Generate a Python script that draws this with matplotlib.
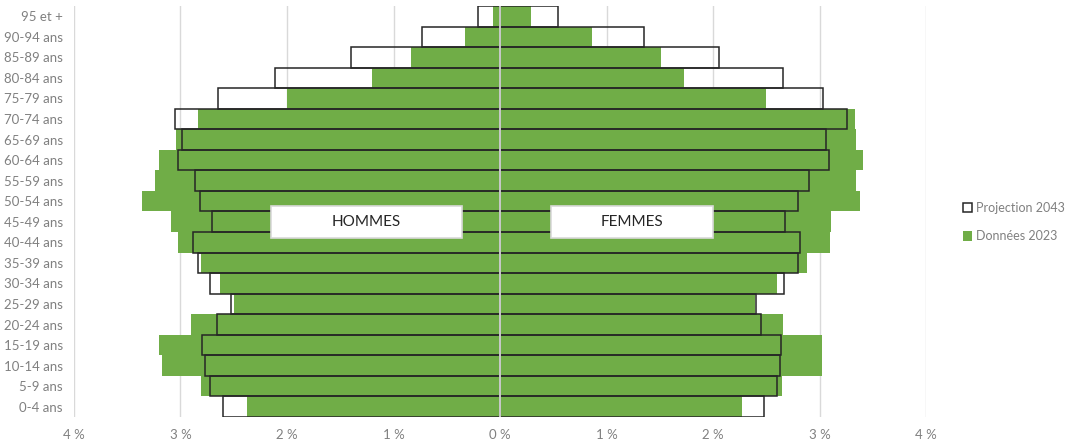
import matplotlib.pyplot as plt
from matplotlib.patches import Patch, Rectangle

plt.rcParams['font.family'] = ['Lato', 'DejaVu Sans']

ages = ['0-4 ans', '5-9 ans', '10-14 ans', '15-19 ans', '20-24 ans', '25-29 ans',
        '30-34 ans', '35-39 ans', '40-44 ans', '45-49 ans', '50-54 ans', '55-59 ans',
        '60-64 ans', '65-69 ans', '70-74 ans', '75-79 ans', '80-84 ans', '85-89 ans',
        '90-94 ans', '95 et +']

# part de la population (%), de 0-4 ans à 95 et +
hommes_2023 = [2.38, 2.81, 3.17, 3.20, 2.90, 2.50, 2.63, 2.81, 3.02, 3.09,
               3.36, 3.24, 3.20, 3.04, 2.84, 2.00, 1.20, 0.84, 0.33, 0.07]
femmes_2023 = [2.27, 2.65, 3.02, 3.02, 2.66, 2.39, 2.60, 2.88, 3.10, 3.11,
               3.38, 3.34, 3.41, 3.34, 3.33, 2.50, 1.73, 1.51, 0.86, 0.29]
hommes_2043 = [2.60, 2.72, 2.77, 2.80, 2.66, 2.53, 2.72, 2.84, 2.88, 2.70,
               2.82, 2.86, 3.02, 2.99, 3.05, 2.65, 2.11, 1.40, 0.73, 0.21]
femmes_2043 = [2.48, 2.60, 2.63, 2.64, 2.45, 2.40, 2.67, 2.80, 2.82, 2.68,
               2.80, 2.90, 3.09, 3.06, 3.26, 3.03, 2.66, 2.06, 1.35, 0.54]

ticks = [-4, -3, -2, -1, 0, 1, 2, 3, 4]
tick_labels = ['4 %', '3 %', '2 %', '1 %', '0 %', '1 %', '2 %', '3 %', '4 %']

vert = '#70AD47'
gris = '#808080'
y = range(len(ages))

fig = plt.figure(figsize=(10.66, 4.4), dpi=100)
ax = fig.add_axes([0.0694, 0.0523, 0.7993, 0.9341])

# données 2023 : barres pleines
ax.barh(y, [-v for v in hommes_2023], height=1.0, color=vert, zorder=2)
ax.barh(y, femmes_2023, height=1.0, color=vert, zorder=2)
# projection 2043 : contour seul
ax.barh(y, [-v for v in hommes_2043], height=1.0, facecolor='none',
        edgecolor='#262626', linewidth=1.1, zorder=3)
ax.barh(y, femmes_2043, height=1.0, facecolor='none',
        edgecolor='#262626', linewidth=1.1, zorder=3)

ax.axvline(0, color='#e6e6e6', linewidth=1.2, zorder=4)

ax.set_xlim(-4, 4)
ax.set_ylim(-0.5, len(ages) - 0.5)
ax.set_xticks(ticks)
ax.set_xticklabels(tick_labels)
ax.set_yticks(list(y))
ax.set_yticklabels(ages)
ax.tick_params(length=0, colors=gris, labelsize=9.5)
ax.tick_params(axis='y', pad=8)
ax.tick_params(axis='x', pad=9)
ax.grid(axis='x', color='#d9d9d9', linewidth=1, zorder=0)
ax.set_axisbelow(True)
for s in ax.spines.values():
    s.set_visible(False)

# étiquettes hommes / femmes
for x0, x1, txt in [(-2.153, -0.357, 'HOMMES'), (0.476, 2.0, 'FEMMES')]:
    ax.add_patch(Rectangle((x0, 8.2), x1 - x0, 1.58, facecolor='white',
                           edgecolor='#d9d9d9', linewidth=1.2, zorder=5))
    ax.text((x0 + x1) / 2, 8.99, txt, ha='center', va='center',
            fontsize=11, color='#262626', zorder=6)

handles = [Patch(facecolor='white', edgecolor='#262626', linewidth=1.1),
           Patch(facecolor=vert)]
fig.legend(handles, ['Projection 2043', 'Données 2023'], loc='center left',
           bbox_to_anchor=(0.903, 0.495), frameon=False, fontsize=9.0,
           labelcolor=gris, handlelength=0.75, handleheight=0.75,
           handletextpad=0.3, labelspacing=1.3, borderpad=0, borderaxespad=0)

fig.savefig('out.png', dpi=100)
